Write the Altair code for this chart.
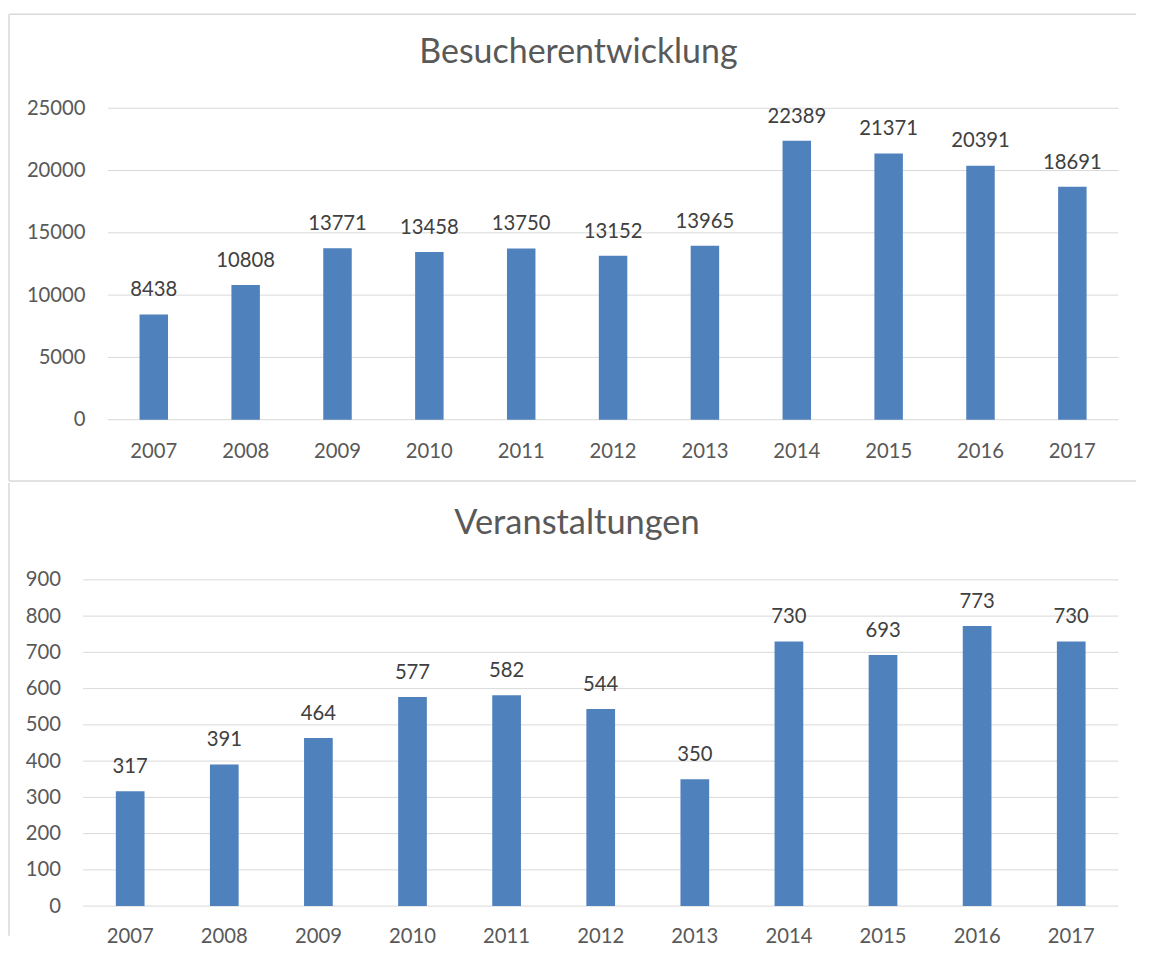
import altair as alt
import pandas as pd

# ---- data ----
years = ["2007", "2008", "2009", "2010", "2011", "2012", "2013", "2014", "2015", "2016", "2017"]
besucher = [8438, 10808, 13771, 13458, 13750, 13152, 13965, 22389, 21371, 20391, 18691]
veranstaltungen = [317, 391, 464, 577, 582, 544, 350, 730, 693, 773, 730]
ticks_top = [0, 5000, 10000, 15000, 20000, 25000]
ticks_bottom = [0, 100, 200, 300, 400, 500, 600, 700, 800, 900]
title_top = "Besucherentwicklung"
title_bottom = "Veranstaltungen"

FONT = "Lato"
BAR = "#4F81BD"
GRID = "#D9D9D9"
BORDER = "#D9D9D9"
AXIS_TXT = "#595959"
LABEL_TXT = "#404040"
FS = 20.5


def one(v):
    return alt.Chart(pd.DataFrame({"k": [v]}))


def panel(values, ticks, ymax, width, height, title, title_x, title_y, x_start,
          left, right, top, bottom, sep_y, xpad, ypad, pad_inner, title_size):
    df = pd.DataFrame({"Jahr": years, "Wert": values})
    base = alt.Chart(df)
    xscale = alt.Scale(paddingInner=pad_inner, paddingOuter=pad_inner / 2,
                       range=[x_start, width])
    xaxis = alt.Axis(labelAngle=0, domain=False, ticks=False, grid=False,
                     labelFont=FONT, labelFontSize=FS, labelColor=AXIS_TXT,
                     labelPadding=xpad)
    yscale = alt.Scale(domain=[0, ymax], nice=False, zero=True)
    yaxis = alt.Axis(values=ticks, format="d", domain=False, ticks=False, tickSize=0,
                     grid=False, labelOverlap=False,
                     labelFont=FONT, labelFontSize=FS, labelColor=AXIS_TXT,
                     labelPadding=ypad)
    x = alt.X("Jahr:N", sort=years, title=None, scale=xscale, axis=xaxis)
    y = alt.Y("Wert:Q", title=None, scale=yscale, axis=yaxis)

    grid = alt.Chart(pd.DataFrame({"Wert": ticks})).mark_rule(
        color=GRID, strokeWidth=1).encode(
        y=y, x=alt.value(x_start), x2=alt.value(width))
    bars = base.mark_bar(color=BAR).encode(x=x, y=y)
    labels = base.mark_text(font=FONT, fontSize=FS, color=LABEL_TXT,
                            baseline="alphabetic", align="center", dy=-18.4).encode(
        x=x, y=y, text=alt.Text("Wert:Q", format="d"))
    ttl = alt.Chart(pd.DataFrame({"t": [title]})).mark_text(
        font=FONT, fontSize=title_size, color=AXIS_TXT, baseline="alphabetic", align="center"
    ).encode(text="t:N", x=alt.value(title_x), y=alt.value(title_y))
    layers = [grid, bars, labels, ttl]
    # frame lines of the chart box
    layers.append(one(1).mark_rule(color=BORDER, strokeWidth=1.5).encode(
        x=alt.value(left), y=alt.value(top), y2=alt.value(bottom)))
    if sep_y is not None:
        layers.append(one(2).mark_rule(color=BORDER, strokeWidth=1.5).encode(
            x=alt.value(left), x2=alt.value(right), y=alt.value(sep_y)))
        layers.append(one(3).mark_rule(color=BORDER, strokeWidth=1.5).encode(
            x=alt.value(left), x2=alt.value(right), y=alt.value(top)))
    return alt.layer(*layers).properties(width=width, height=height)


# both plot areas share the same left origin; the lower one starts its bands further left
top = panel(besucher, ticks_top, 25000, 1022, 315, title_top, 476, -45.5, 0,
            left=-100, right=1040, top=-95, bottom=377, sep_y=377,
            xpad=22, ypad=23, pad_inner=0.69, title_size=34.3)

bottom = panel(veranstaltungen, ticks_bottom, 900, 1022, 330, title_bottom, 474.5, -46, -25,
               left=-100, right=1040, top=-98, bottom=360, sep_y=None,
               xpad=20.5, ypad=48, pad_inner=0.695, title_size=34.8)

chart = alt.vconcat(top, bottom, spacing=0)
chart = chart.properties(padding=0, background="white").configure_view(stroke=None)

chart.save("out.html", embed_options={"renderer": "svg", "actions": False})
